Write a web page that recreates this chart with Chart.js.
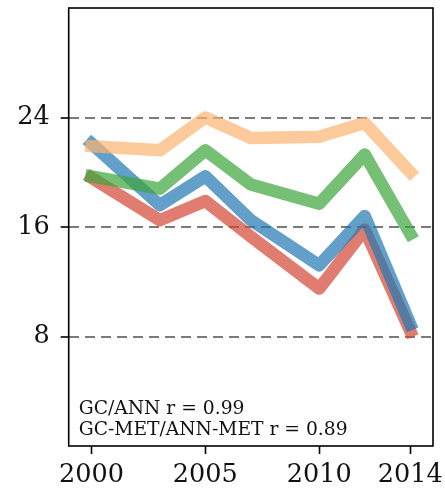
<!DOCTYPE html>
<html>
<head>
<meta charset="utf-8">
<script src="https://cdn.jsdelivr.net/npm/chart.js@4.4.1/dist/chart.umd.min.js"></script>
<style>
  html, body { margin: 0; padding: 0; background: #fff; }
  canvas { display: block; }
</style>
</head>
<body>
<canvas id="chart" width="445" height="489"></canvas>
<script>
// values
const years = [2000, 2003, 2005, 2007, 2010, 2012, 2014];
const gc = [22.1, 17.6, 19.7, 16.5, 13.2, 16.8, 8.9];
const ann = [19.6, 16.5, 17.9, 15.3, 11.5, 15.8, 8.4];
const gcMet = [19.7, 18.8, 21.6, 19.1, 17.7, 21.3, 15.5];
const annMet = [21.9, 21.6, 24.0, 22.5, 22.6, 23.6, 20.0];
const xTicks = [2000, 2005, 2010, 2014];
const yTicks = [8, 16, 24];
const notes = ["GC/ANN r = 0.99", "GC-MET/ANN-MET r = 0.89"];

const FONT = "'DejaVu Serif', serif";

function toPoints(values) {
  return values.map((v, i) => ({ x: years[i], y: v }));
}

function lineSet(label, values, color) {
  return {
    label: label,
    data: toPoints(values),
    borderColor: color,
    borderWidth: 12.5,
    borderCapStyle: "square",
    borderJoinStyle: "round",
    pointRadius: 0,
    tension: 0,
    fill: false
  };
}

// frame round the plot and the r text
const framePlugin = {
  id: "frame",
  afterDraw(chart) {
    const { ctx, chartArea } = chart;
    ctx.save();
    ctx.strokeStyle = "#000";
    ctx.lineWidth = 1.6;
    ctx.strokeRect(chartArea.left, chartArea.top, chartArea.right - chartArea.left, chartArea.bottom - chartArea.top);
    ctx.fillStyle = "#111";
    ctx.font = "18.7px " + FONT;
    ctx.textBaseline = "alphabetic";
    ctx.textAlign = "left";
    const x0 = chartArea.left + 10;
    ctx.fillText(notes[0], x0, chartArea.bottom - 32);
    ctx.fillText(notes[1], x0, chartArea.bottom - 11);
    ctx.restore();
  }
};

// no extra room for half labels, the frame sits where the margins say
function noPad(scale) {
  scale.paddingTop = 0;
  scale.paddingBottom = 0;
  scale.paddingLeft = 0;
  scale.paddingRight = 0;
}

new Chart(document.getElementById("chart"), {
  type: "line",
  data: {
    datasets: [
      lineSet("ANN-MET", annMet, "rgba(252,179,112,0.7)"),
      lineSet("GC-MET", gcMet, "rgba(60,165,60,0.7)"),
      lineSet("GC", gc, "rgba(31,119,180,0.7)"),
      lineSet("ANN", ann, "rgba(211,69,51,0.7)")
    ]
  },
  options: {
    responsive: false,
    animation: false,
    devicePixelRatio: 1,
    layout: { padding: { top: 8, right: 12, left: 0, bottom: 0 } },
    plugins: {
      legend: { display: false },
      tooltip: { enabled: false }
    },
    scales: {
      x: {
        type: "linear",
        min: 1999,
        max: 2015,
        afterBuildTicks: (scale) => {
          scale.ticks = xTicks.map(v => ({ value: v }));
        },
        afterFit: (scale) => { scale.height = 43; noPad(scale); },
        ticks: {
          color: "#111",
          font: { family: FONT, size: 25.5 },
          padding: 6,
          maxRotation: 0,
          autoSkip: false,
          callback: (v) => String(v)
        },
        grid: {
          drawOnChartArea: false,
          tickLength: 8,
          tickWidth: 1.6,
          tickColor: "#000"
        },
        border: { display: false }
      },
      y: {
        min: 0,
        max: 32,
        afterBuildTicks: (scale) => {
          scale.ticks = yTicks.map(v => ({ value: v }));
        },
        afterFit: (scale) => { scale.width = 68.7; noPad(scale); },
        ticks: {
          color: "#111",
          font: { family: FONT, size: 25.5 },
          padding: 11,
          autoSkip: false,
          callback: (v) => String(v)
        },
        grid: {
          color: "#7a7a7a",
          lineWidth: 2,
          tickLength: 8,
          tickWidth: 1.6,
          tickColor: "#000",
          tickBorderDash: []
        },
        border: { display: false, dash: [10, 6] }
      }
    }
  },
  plugins: [framePlugin]
});
</script>
</body>
</html>
